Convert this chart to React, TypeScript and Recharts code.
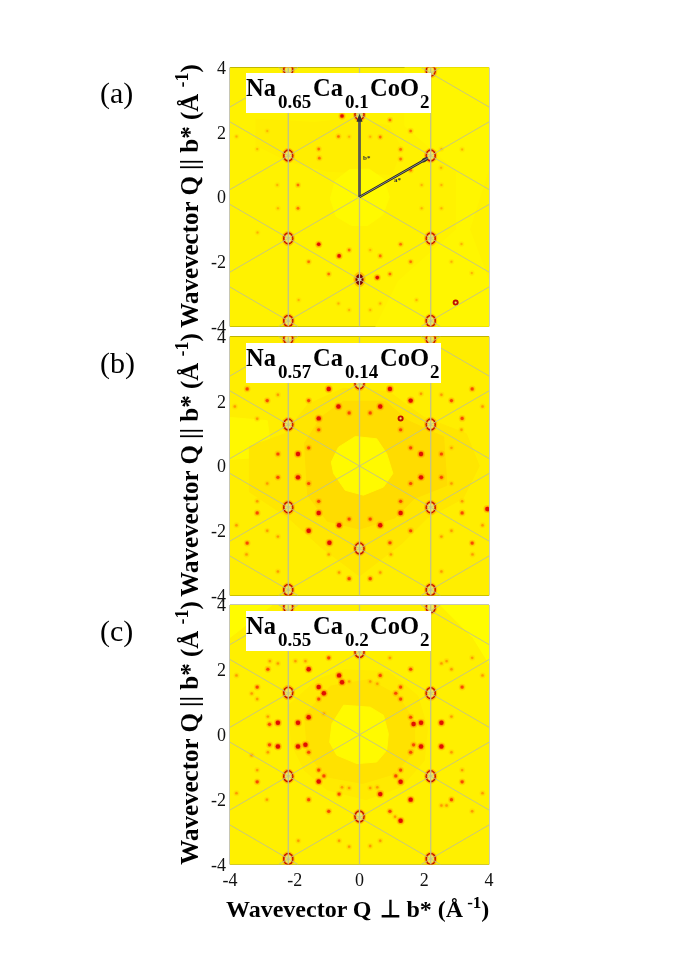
import React from "react";
import { ScatterChart, Scatter, XAxis, YAxis, ReferenceLine } from "recharts";

type P = [number, number];

const ticks = [-4, -2, 0, 2, 4];

// lattice lines of the reciprocal cell, x1 y1 x2 y2
const lattice = [
  [-2.2, -4, -2.2, 4], [0, -4, 0, 4], [2.2, -4, 2.2, 4],
  [-4, -2.32, 4, 2.32], [-4, 2.32, 4, -2.32],
  [-4, 0.23, 2.5, 4], [-2.5, -4, 4, -0.23],
  [-4, -0.23, 2.5, -4], [-2.5, 4, 4, 0.23],
  [-4, 2.78, -1.9, 4], [1.9, -4, 4, -2.78],
  [-4, -2.78, -1.9, -4], [1.9, 4, 4, 2.78],
];

const square: P[] = [[-4, -4], [4, -4], [4, 4], [-4, 4], [-4, -4]];

// panel (a)
const aBase = square;
const aBright: P[] = [[1.4, 4], [4, 4], [4, 0.9], [3.4, -1], [4, -2.6], [4, -4], [0.5, -4], [1.2, -2.6], [3, -1], [3, 0.8], [1.4, 2.2], [1.4, 4]];
const aMid: P[] = [[-1.4, 2.3], [-0.4, 2.4], [0.9, 2.2], [1.3, 1.5], [1, 0.7], [-1, 0.8], [-2.2, 1.1], [-3.2, 1.6], [-3.2, 2.4], [-1.4, 2.3]];
const aDisk: P[] = [[-0.3, 0.85], [0.3, 0.86], [0.75, 0.55], [0.92, 0], [0.72, -0.55], [0.25, -0.88], [-0.25, -0.88], [-0.72, -0.6], [-0.9, -0.05], [-0.75, 0.5], [-0.3, 0.85]];
const aBragg: P[] = [[-2.2, 1.28], [2.2, 1.28], [-2.2, -1.28], [2.2, -1.28], [0, 2.55], [-2.2, 3.93], [2.2, 3.9], [-2.2, -3.83], [2.2, -3.83]];
const aBlack: P[] = [[0, -2.55]];
const aRing: P[] = [[2.97, -3.26]];
const aStrong: P[] = [[-0.54, 2.5], [0.55, -2.49], [-1.26, -1.46], [-0.63, -1.82]];
const aMedium: P[] = [[0.94, 2.38], [0.64, 1.85], [-0.65, 1.87], [-1.26, 1.48], [-1.24, 1.2], [1.27, 1.47], [1.27, 1.17], [1.58, 2.04], [-1.9, 0.37], [-1.9, -0.35], [1.58, 0.83], [0.64, -1.82], [-0.32, -1.64], [-0.95, -2.38], [-1.57, -2], [1.27, -1.46], [1.58, -2], [0.94, -2.38]];
const aFaint: P[] = [[-3.16, 1.48], [-2.85, 2.04], [-3.8, 1.87], [0.33, 1.86], [-0.32, 1.86], [2.53, 1.48], [3.17, 1.47], [-2.54, 0.37], [-2.52, -0.35], [1.92, 0.37], [2.53, 0.37], [2.53, -0.35], [1.92, -0.35], [0.33, -1.64], [3.47, -2.35], [2.84, -2], [-1.88, -3.18], [-0.65, -3.29], [-0.32, -3.49], [0.33, -3.49], [0.64, -3.29], [1.76, -3.18], [-3.15, -1.1], [3.15, -1.45], [2.52, 0.9]];

// panel (b)
const bBase = square;
const bBright: P[] = [[-4, 1.5], [-2.85, 1.4], [-2.7, 0.3], [-4, 0.2], [-4, 1.5]];
const bMid: P[] = [[-3.4, 0.6], [-2.3, 1], [-1.6, 1.9], [-0.5, 2.4], [0.9, 2.3], [2, 1.5], [3.3, 1], [3.7, 0], [3.2, -1], [2.1, -1.6], [1.3, -2.4], [0, -3.4], [-1.2, -2.5], [-2.2, -1.6], [-3.4, -0.8], [-3.4, 0.6]];
const bRing: P[] = [[-1.7, 0.7], [-1.2, 1.5], [-0.5, 2], [0.8, 2], [1.5, 1.4], [2.6, 0.9], [2.7, -0.6], [1.7, -1], [1.1, -1.6], [0, -1.95], [-1, -1.7], [-1.6, -0.9], [-1.7, 0.7]];
const bDisk: P[] = [[-0.13, 0.91], [0.53, 0.84], [0.84, 0.38], [1.03, -0.23], [0.74, -0.65], [0.12, -0.9], [-0.44, -0.75], [-0.8, -0.23], [-0.87, 0.12], [-0.65, 0.58], [-0.13, 0.91]];
const bBragg: P[] = [[-2.2, 1.28], [2.2, 1.28], [-2.2, -1.28], [2.2, -1.28], [0, 2.55], [0, -2.55], [-2.2, 3.93], [2.2, 3.93], [-2.2, -3.83], [2.2, -3.83]];
const bBlack: P[] = [];
const bRingSpot: P[] = [[1.27, 1.47]];
const bStrong: P[] = [[-0.65, 1.84], [0.64, 1.84], [-0.95, 2.38], [0.94, 2.38], [-1.26, 1.47], [1.58, 2.02], [-1.9, 0.37], [1.9, 0.37], [-1.9, -0.35], [1.9, -0.35], [-1.26, -1.45], [1.27, -1.45], [-0.63, -1.83], [0.64, -1.83], [-0.93, -2.37], [-1.57, -2], [3.95, -1.33]];
const bMedium: P[] = [[-1.57, 2.02], [-0.32, 1.64], [0.33, 1.64], [-1.26, 1.12], [1.27, 1.12], [3.17, 1.47], [2.84, 2.02], [-2.85, 2.02], [-3.47, 2.38], [3.48, 2.38], [-1.57, 0.56], [1.58, 0.56], [-2.52, 0.37], [2.53, 0.37], [-2.52, -0.35], [2.53, -0.35], [-1.57, -0.54], [1.58, -0.54], [-1.26, -1.09], [1.27, -1.09], [-0.32, -1.64], [0.33, -1.64], [1.58, -2], [0.94, -2.37], [-3.47, -2.38], [-3.16, -1.45], [3.17, -1.45], [3.48, -2.38], [-0.32, -3.48], [0.33, -3.48]];
const bFaint: P[] = [[-2.52, 2.2], [1.9, 2.23], [2.53, 2.2], [3.8, 1.84], [3.15, 1.12], [-3.16, 1.46], [-3.85, 1.84], [2.84, 0.56], [-2.85, -0.54], [2.84, -0.54], [-3.16, -1.09], [3.17, -1.09], [-3.8, -1.83], [3.8, -1.83], [-2.85, -2], [-2.52, -2.18], [2.53, -2.18], [2.84, -2], [-0.95, -2.73], [0.97, -2.73], [-3.49, -2.73], [3.49, -2.73], [-2.52, -3.26], [2.53, -3.26], [-0.63, -3.29], [0.64, -3.29]];

// panel (c)
const cBase = square;
const cBright: P[] = [[-4, 4], [-2.7, 4], [-4, 3], [-4, 4]];
const cBright2: P[] = [[2.5, 4], [4, 4], [4, 2.2], [3.5, 3], [2.5, 4]];
const cMid: P[] = [[-2.2, 0.9], [-1.3, 1.7], [-0.5, 2], [0.9, 1.95], [1.8, 1.2], [2.1, 0.2], [2, -0.8], [1.3, -1.6], [0.2, -2], [-1, -1.7], [-1.7, -1.1], [-2.1, -0.3], [-2.2, 0.9]];
const cRing: P[] = [[-1.7, 0.6], [-0.9, 1.5], [0.3, 1.7], [1.2, 1.2], [1.7, 0.4], [1.7, -0.5], [1.1, -1.2], [0.1, -1.5], [-1, -1.3], [-1.6, -0.6], [-1.7, 0.6]];
const cDisk: P[] = [[-0.49, 0.91], [0.33, 0.85], [0.74, 0.6], [0.89, 0.03], [0.84, -0.48], [0.53, -0.84], [-0.08, -0.89], [-0.7, -0.63], [-0.92, -0.23], [-0.85, 0.34], [-0.49, 0.91]];
const cBragg: P[] = [[-2.2, 1.3], [2.2, 1.28], [-2.2, -1.28], [2.2, -1.28], [0, 2.55], [0, -2.52], [-2.2, 3.93], [2.2, 3.93], [-2.2, -3.83], [2.2, -3.83]];
const cBlack: P[] = [];
const cRingSpot: P[] = [];
const cStrong: P[] = [[-0.63, 1.83], [-0.54, 1.62], [-1.57, 2.02], [-1.26, 1.47], [-1.1, 1.28], [-1.57, 0.54], [-1.9, 0.37], [-2.52, 0.37], [1.9, 0.37], [1.67, 0.33], [2.53, 0.37], [-1.9, -0.36], [-1.67, -0.31], [-2.52, -0.36], [1.9, -0.36], [2.53, -0.36], [-1.26, -1.44], [1.27, -1.45], [0.64, -1.83], [1.58, -2], [1.27, -2.65]];
const cMedium: P[] = [[-0.95, 2.37], [-1.26, 1.1], [0.64, 1.83], [1.58, 2.02], [1.27, 1.47], [1.12, 1.28], [1.27, 1.1], [-2.83, 2.02], [3.17, 1.47], [-3.16, 1.47], [1.58, 0.54], [1.67, -0.31], [1.58, -0.54], [-1.57, -0.54], [-2.78, -0.31], [-1.1, -1.27], [1.12, -1.27], [1.27, -1.09], [-1.26, -1.09], [-3.16, -1.45], [3.17, -1.45], [-0.63, -1.83], [2.84, -2], [0.94, -2.36], [-2.78, 0.32], [-0.95, -2.36], [-1.57, -2]];
const cFaint: P[] = [[-1.67, 2.27], [-1.98, 2.27], [-2.77, 2.27], [-2.52, 2.2], [0.94, 2.37], [0.33, 1.64], [0.55, 1.57], [-0.32, 1.64], [2.84, 2.02], [2.53, 2.2], [2.69, 2.27], [3.48, 2.37], [3.8, 1.83], [-3.8, 1.83], [-3.33, 1.27], [-3.16, 1.1], [-2.83, 0.56], [2.84, 0.56], [-1.1, 0.65], [-2.83, -0.54], [2.84, -0.54], [1.58, -0.54], [-3.33, -0.63], [-3.16, -1.09], [3.17, -1.09], [-0.54, -1.62], [-0.32, -1.64], [0.33, -1.64], [0.55, -1.62], [2.53, -2.18], [2.69, -2.18], [-2.86, -2], [-3.8, -1.8], [3.8, -1.8], [3.48, -2.36], [1.1, -2.53], [0.64, -3.27], [-0.32, -3.45], [0.33, -3.43], [-0.63, -3.27], [-1.89, -3.27]];

// arrows in panel (a)
const arrowB: P[] = [[0, 0], [0, 2.48]];
const arrowA: P[] = [[0, 0], [2.11, 1.2]];

const pts = (list: P[]) => list.map(([x, y]) => ({ x, y }));

const FONT = "'Liberation Serif', 'Times New Roman', serif";

const spot = (r: number, core: string, halo: string) => (p: any) => (
  <g>
    <circle cx={p.cx} cy={p.cy} r={r + 1.8} fill={halo} opacity={0.3} />
    <circle cx={p.cx} cy={p.cy} r={r + 0.7} fill={halo} opacity={0.65} />
    <circle cx={p.cx} cy={p.cy} r={r} fill={core} />
  </g>
);

const braggShape = (p: any) => (
  <g>
    <ellipse cx={p.cx} cy={p.cy} rx={6.5} ry={7.5} fill="#ff8a00" opacity={0.5} />
    <ellipse cx={p.cx} cy={p.cy} rx={5.2} ry={6.2} fill="#b80c00" />
    <ellipse cx={p.cx} cy={p.cy} rx={4} ry={5} fill="#ff8200" />
    <ellipse cx={p.cx} cy={p.cy} rx={3.2} ry={4} fill="#eeee55" />
  </g>
);

const blackShape = (p: any) => (
  <g>
    <ellipse cx={p.cx} cy={p.cy} rx={6} ry={7.5} fill="#ff8a00" opacity={0.5} />
    <ellipse cx={p.cx} cy={p.cy} rx={4} ry={5.5} fill="#7a0000" />
    <circle cx={p.cx} cy={p.cy} r={1.8} fill="#ddd" />
  </g>
);

const ringShape = (p: any) => (
  <g>
    <circle cx={p.cx} cy={p.cy} r={3} fill="#c01000" />
    <circle cx={p.cx} cy={p.cy} r={1.1} fill="#f2f060" />
  </g>
);

const noDot = () => <g />;

const tipB = (p: any) =>
  p.payload?.y === 2.48 ? <polygon points={`${p.cx},${p.cy - 3} ${p.cx - 3},${p.cy + 5} ${p.cx + 3},${p.cy + 5}`} fill="#333" /> : <g />;
const tipA = (p: any) =>
  p.payload?.x === 2.11 ? <ellipse cx={p.cx - 3} cy={p.cy + 1.7} rx={3.5} ry={2} fill="#333" transform={`rotate(-30 ${p.cx - 3} ${p.cy + 1.7})`} /> : <g />;

const Panel = ({ top, bottom, showX, regions, bragg, black, ring, strong, medium, faint, arrows, soft }: any) => (
  <div style={{ position: "absolute", left: 0, top: 0 }}>
    <ScatterChart
      width={694}
      height={960}
      margin={{ top, bottom: 960 - bottom - (showX ? 30 : 0), left: 180, right: 205 }}
    >
      <XAxis
        type="number"
        dataKey="x"
        domain={[-4, 4]}
        ticks={ticks}
        allowDataOverflow
        hide={!showX}
        height={30}
        axisLine={false}
        tickSize={0}
        tickMargin={9}
        interval={0}
        tick={{ fontFamily: FONT, fontSize: 18, fill: "#111" }}
      />
      <YAxis
        type="number"
        dataKey="y"
        domain={[-4, 4]}
        ticks={ticks}
        allowDataOverflow
        width={50}
        axisLine={false}
        tickSize={0}
        tickMargin={4}
        interval={0}
        tick={{ fontFamily: FONT, fontSize: 18, fill: "#111" }}
      />
      {regions.map((r: any, i: number) => (
        <Scatter
          key={"r" + i}
          data={pts(r.points)}
          shape={noDot}
          line={{ stroke: r.color, fill: r.color, strokeWidth: 1 }}
          isAnimationActive={false}
        />
      ))}
      <Scatter data={pts(faint)} shape={soft ? spot(1, "#ffb000", "#ffd000") : spot(1.2, "#ff9a00", "#ffc400")} isAnimationActive={false} />
      <Scatter data={pts(medium)} shape={soft ? spot(1.3, "#ff7000", "#ffb000") : spot(1.6, "#f84a00", "#ff9a00")} isAnimationActive={false} />
      <Scatter data={pts(strong)} shape={spot(soft ? 1.8 : 2.2, "#e01000", "#ff7a00")} isAnimationActive={false} />
      <Scatter data={pts(bragg)} shape={braggShape} isAnimationActive={false} />
      <Scatter data={pts(black)} shape={blackShape} isAnimationActive={false} />
      <Scatter data={pts(ring)} shape={ringShape} isAnimationActive={false} />
      {lattice.map((l, i) => (
        <Scatter
          key={"l" + i}
          data={[{ x: l[0], y: l[1] }, { x: l[2], y: l[3] }]}
          shape={noDot}
          line={{ stroke: "#c2c28a", strokeWidth: l[0] === l[2] ? 1.3 : 0.9 }}
          isAnimationActive={false}
        />
      ))}
      {arrows && (
        <Scatter data={pts(arrowB)} shape={tipB} line={{ stroke: "#5a5a50", strokeWidth: 2.8 }} isAnimationActive={false} />
      )}
      {arrows && (
        <Scatter data={pts(arrowA)} shape={tipA} line={{ stroke: "#222", strokeWidth: 2.4 }} isAnimationActive={false} />
      )}
      {arrows && (
        <Scatter data={pts(arrowA)} shape={noDot} line={{ stroke: "#888", strokeWidth: 1 }} isAnimationActive={false} />
      )}
      <ReferenceLine x={-4} stroke="#8c8c6a" />
      <ReferenceLine x={4} stroke="#9a9a80" />
      <ReferenceLine y={4} stroke={showX ? "#8c8c6a" : "#555500"} />
      <ReferenceLine y={-4} stroke={showX ? "#8c8c6a" : "#777700"} />
    </ScatterChart>
  </div>
);

const YTitle = ({ cy }: { cy: number }) => (
  <text
    transform={`translate(198 ${cy}) rotate(-90)`}
    textAnchor="middle"
    fontFamily={FONT}
    fontWeight="bold"
    fontSize={25}
    fill="#000"
  >
    Wavevector Q || b* (Å<tspan dy={-10} dx={6} fontSize={18}>-1</tspan>
    <tspan dy={10}>)</tspan>
  </text>
);

const Formula = ({ y, w, na, ca, xCa2, x2 }: any) => (
  <g fontFamily={FONT} fontWeight="bold" fill="#000">
    <rect x={246} y={y} width={w} height={40} fill="#fff" />
    <text x={246} y={y + 23} fontSize={24.5}>Na</text>
    <text x={278} y={y + 35} fontSize={19}>{na}</text>
    <text x={313} y={y + 23} fontSize={24.5}>Ca</text>
    <text x={345} y={y + 35} fontSize={19}>{ca}</text>
    <text x={xCa2} y={y + 23} fontSize={24.5}>CoO</text>
    <text x={x2} y={y + 35} fontSize={19}>2</text>
  </g>
);

export default function App() {
  return (
    <div style={{ position: "absolute", left: 0, top: 0, width: 694, height: 960, background: "#fff", filter: "blur(0.3px)" }}>
      <Panel
        top={67.5}
        bottom={326.5}
        soft
        regions={[
          { color: "#fff200", points: aBase },
          { color: "#fff600", points: aBright },
          { color: "#ffee00", points: aMid },
          { color: "#fffa00", points: aDisk },
        ]}
        bragg={aBragg}
        black={aBlack}
        ring={aRing}
        strong={aStrong}
        medium={aMedium}
        faint={aFaint}
        arrows
      />
      <Panel
        top={336.5}
        bottom={595.5}
        regions={[
          { color: "#ffee00", points: bBase },
          { color: "#fff800", points: bBright },
          { color: "#ffe600", points: bMid },
          { color: "#ffdc00", points: bRing },
          { color: "#fffa00", points: bDisk },
        ]}
        bragg={bBragg}
        black={bBlack}
        ring={bRingSpot}
        strong={bStrong}
        medium={bMedium}
        faint={bFaint}
      />
      <Panel
        top={605}
        bottom={864.5}
        showX
        regions={[
          { color: "#fff000", points: cBase },
          { color: "#fffc00", points: cBright },
          { color: "#fffc00", points: cBright2 },
          { color: "#ffea00", points: cMid },
          { color: "#ffe200", points: cRing },
          { color: "#fffa00", points: cDisk },
        ]}
        bragg={cBragg}
        black={cBlack}
        ring={cRingSpot}
        strong={cStrong}
        medium={cMedium}
        faint={cFaint}
      />
      <svg width={694} height={960} style={{ position: "absolute", left: 0, top: 0, pointerEvents: "none" }}>
        <g fontFamily={FONT} fontSize={30} fill="#000">
          <text x={100} y={103}>(a)</text>
          <text x={100} y={373}>(b)</text>
          <text x={100} y={641}>(c)</text>
        </g>
        <YTitle cy={196} />
        <YTitle cy={465} />
        <YTitle cy={733} />
        <Formula y={73} w={185} na="0.65" ca="0.1" xCa2={370} x2={420} />
        <Formula y={343} w={195} na="0.57" ca="0.14" xCa2={380} x2={430} />
        <Formula y={611} w={185} na="0.55" ca="0.2" xCa2={370} x2={420} />
        <g fontFamily={FONT} fontWeight="bold" fontSize={7} fill="#333">
          <text x={363} y={160}>b*</text>
          <text x={394} y={182}>a*</text>
        </g>
        <text x={226} y={917} fontFamily={FONT} fontWeight="bold" fontSize={24} fill="#000">
          Wavevector Q <tspan dx={2}>⊥</tspan> b* (Å<tspan dy={-9} dx={4} fontSize={17}>-1</tspan>
          <tspan dy={9}>)</tspan>
        </text>
      </svg>
    </div>
  );
}
